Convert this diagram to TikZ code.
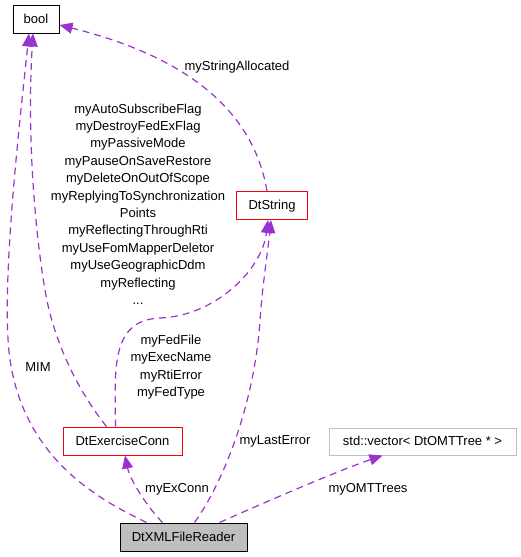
\documentclass[tikz,border=0pt]{standalone}
\usepackage{fontspec}
\setmainfont{Liberation Sans}
\usetikzlibrary{arrows.meta}
\definecolor{edgec}{HTML}{9A32CD}
\definecolor{greyfill}{HTML}{BFBFBF}
\tikzset{
  cls/.style={draw, line width=1pt, minimum height=28pt, inner sep=0pt, text height=10pt, text depth=1.5pt, font=\fontsize{13}{16}\selectfont},
  redcls/.style={cls, draw=red},
  usage/.style={draw=edgec, line width=1.2pt, dash pattern=on 7pt off 5pt, -{Triangle[length=13pt,width=11pt]}},
  lbl/.style={align=center, inner sep=0pt, font=\fontsize{13}{17.4}\selectfont}
}
\begin{document}
\begin{tikzpicture}[x=1pt,y=-1pt]
\useasboundingbox (0,0) rectangle (521,557);
% nodes
\node[cls, minimum width=46pt] (bool) at (36,19) {bool};
\node[redcls, minimum width=71pt] (dtstring) at (272,205.5) {DtString};
\node[redcls, minimum width=119pt] (exconn) at (122.5,441) {DtExerciseConn};
\node[cls, draw=greyfill, minimum width=187pt, minimum height=27pt] (vec) at (422.5,441.5) {std::vector< DtOMTTree * >};
\node[cls, fill=greyfill, minimum width=127pt] (reader) at (183.5,537) {DtXMLFileReader};
% edges
\draw[usage] ([xshift=27pt]reader.north west) .. controls (100,500) and (25,460) .. (10,360)
   .. controls (0,290) and (20,120) .. ([xshift=-7pt]bool.south);
\draw[usage] ([xshift=44pt]exconn.north west) .. controls (85,400) and (55,350) .. (45,290)
   .. controls (38,250) and (26,150) .. ([xshift=-3pt]bool.south);
\draw[usage] ([xshift=-5pt]dtstring.north) .. controls (255,120) and (200,60) .. ([yshift=-6pt]bool.east);
\draw[usage] ([xshift=53pt]exconn.north west) .. controls (115,370) and (110,320) .. (160,318)
   .. controls (215,316) and (262,270) .. ([xshift=-4pt]dtstring.south);
\draw[usage] ([xshift=75pt]reader.north west) .. controls (225,480) and (255,400) .. (260,320)
   .. controls (263,280) and (268,250) .. ([xshift=-1pt]dtstring.south);
\draw[usage] ([xshift=43pt]reader.north west) .. controls (148,508) and (130,480) .. ([xshift=2.5pt]exconn.south);
\draw[usage] ([xshift=100pt]reader.north west) .. controls (270,500) and (340,470) .. ([xshift=-40pt]vec.south);
% labels
\node[lbl] (l1) at (138,204) {myAutoSubscribeFlag\\myDestroyFedExFlag\\myPassiveMode\\myPauseOnSaveRestore\\myDeleteOnOutOfScope\\myReplyingToSynchronization\\Points\\myReflectingThroughRti\\myUseFomMapperDeletor\\myUseGeographicDdm\\myReflecting\\...};
\node[lbl] (l2) at (171,367) {myFedFile\\myExecName\\myRtiError\\myFedType};
\node[lbl] (l3) at (38,367) {MIM};
\node[lbl] (l4) at (177,489) {myExConn};
\node[lbl] (l5) at (275,441) {myLastError};
\node[lbl] (l6) at (368,489) {myOMTTrees};
\node[lbl] (l7) at (237,67) {myStringAllocated};
\end{tikzpicture}
\end{document}
